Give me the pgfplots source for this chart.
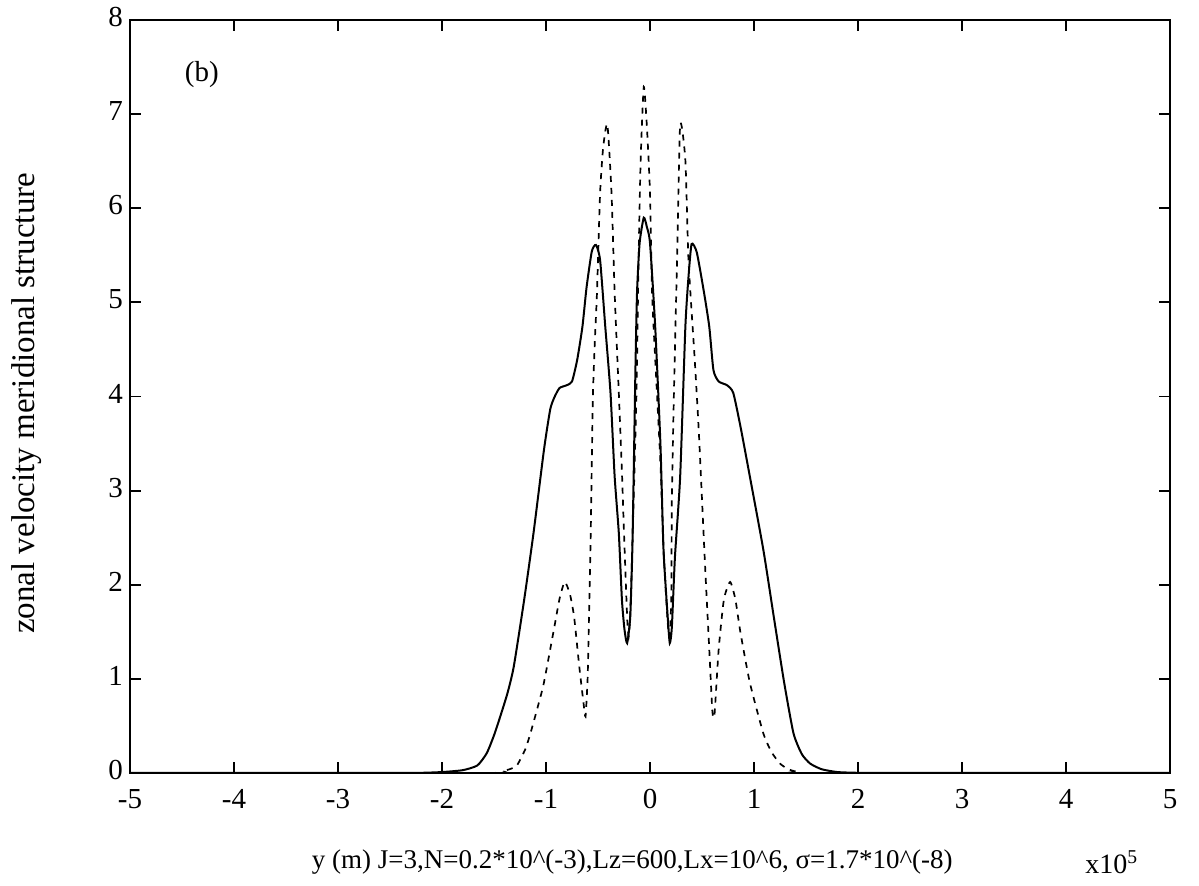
\documentclass[border=0pt]{standalone}
\usepackage{fontspec}
\setmainfont{Liberation Serif}
\usepackage{pgfplots}
\pgfplotsset{compat=1.18}
\begin{document}
\begin{tikzpicture}
\useasboundingbox (0,0) rectangle (599.5pt,443pt);
\begin{axis}[
  at={(65pt,56.5pt)}, anchor=south west,
  scale only axis, width=520pt, height=376.5pt,
  xmin=-5, xmax=5, ymin=0, ymax=8,
  xtick={-5,-4,...,5},
  xticklabels={-5,-4,-3,-2,-1,0,1,2,3,4,5},
  ytick={0,1,...,8},
  yticklabels={0,1,2,3,4,5,6,7,8},
  tick align=inside, tick pos=both,
  major tick length=5.5pt,
  axis line style={line width=1pt},
  tick style={line width=0.9pt, black},
  tick label style={font=\fontsize{14.5}{16}\selectfont},
  xticklabel style={yshift=-4.5pt},
  yticklabel style={yshift=1.5pt},
  clip=false,
]
% solid curve
\addplot[black, line width=1pt, smooth, tension=0.35] coordinates {
(-5,0) (-2.5,0) (-2.2,0.002) (-2.0,0.01) (-1.8,0.03) (-1.66,0.08) (-1.57,0.21)
(-1.50,0.40) (-1.44,0.60) (-1.37,0.85) (-1.31,1.13) (-1.21,1.84) (-1.12,2.55)
(-1.02,3.43) (-0.96,3.86) (-0.92,3.99) (-0.87,4.09) (-0.80,4.12) (-0.75,4.16)
(-0.70,4.39) (-0.65,4.74) (-0.61,5.16) (-0.56,5.54) (-0.52,5.61) (-0.48,5.45)
(-0.43,4.74) (-0.38,4.04) (-0.34,3.15) (-0.30,2.55) (-0.27,1.84) (-0.245,1.52)
(-0.22,1.38) (-0.19,1.66) (-0.17,2.37) (-0.155,3.3) (-0.14,4.3) (-0.125,5.10)
(-0.10,5.63) (-0.06,5.90) (-0.03,5.80) (0.0,5.63) (0.05,4.74) (0.10,3.5)
(0.13,2.37) (0.17,1.66) (0.19,1.38) (0.21,1.55) (0.24,2.3) (0.29,3.15)
(0.34,4.74) (0.37,5.27) (0.40,5.62) (0.45,5.53) (0.52,5.10) (0.57,4.74)
(0.61,4.28) (0.66,4.16) (0.74,4.12) (0.80,4.04) (0.87,3.68) (0.96,3.15)
(1.09,2.37) (1.19,1.66) (1.29,0.96) (1.38,0.42) (1.46,0.20) (1.54,0.10)
(1.65,0.04) (1.8,0.01) (2.0,0.002) (2.3,0) (5,0)
};
% dashed curve
\addplot[black, line width=0.85pt, dash pattern=on 3pt off 3pt, smooth, tension=0.35] coordinates {
(-5,0) (-1.6,0) (-1.42,0.02) (-1.35,0.04) (-1.28,0.08) (-1.20,0.25) (-1.15,0.42)
(-1.08,0.70) (-1.02,0.96) (-0.92,1.55) (-0.87,1.85) (-0.82,2.03) (-0.77,1.90)
(-0.73,1.66) (-0.68,1.13) (-0.64,0.75) (-0.62,0.60) (-0.60,1.0) (-0.59,1.49)
(-0.57,2.55) (-0.55,3.96) (-0.53,4.6) (-0.51,5.10) (-0.48,6.16) (-0.45,6.65)
(-0.41,6.89) (-0.37,6.16) (-0.34,5.10) (-0.30,4.04) (-0.27,3.2) (-0.25,2.55)
(-0.22,1.66) (-0.205,1.45) (-0.19,1.7) (-0.16,2.8) (-0.13,4.04) (-0.11,5.45)
(-0.09,6.51) (-0.06,7.29) (-0.03,6.87) (0.0,6.16) (0.02,5.10) (0.05,4.4)
(0.10,3.3) (0.13,2.37) (0.17,1.6) (0.19,1.45) (0.205,1.9) (0.21,2.90)
(0.23,4.04) (0.26,5.45) (0.29,6.89) (0.34,6.51) (0.37,5.45) (0.43,4.39)
(0.47,3.61) (0.53,2.19) (0.57,1.31) (0.60,0.65) (0.62,0.62) (0.66,1.31)
(0.71,1.84) (0.77,2.03) (0.82,1.85) (0.87,1.49) (0.96,0.96) (1.09,0.42)
(1.17,0.22) (1.25,0.10) (1.33,0.04) (1.42,0.01) (1.5,0) (5,0)
};
\node[font=\fontsize{14.5}{16}\selectfont] at (axis cs:-4.31,7.42) {(b)};
\node[font=\fontsize{13.5}{16}\selectfont, anchor=center] at ([yshift=-44.5pt]rel axis cs:0.483,0)
  {y (m) J=3,N=0.2*10\textasciicircum(-3),Lz=600,Lx=10\textasciicircum6, σ=1.7*10\textasciicircum(-8)};
\node[font=\fontsize{14}{16}\selectfont, anchor=center] at ([yshift=-44.5pt]rel axis cs:0.944,0)
  {x10\textsuperscript{5}};
\node[font=\fontsize{16.5}{18}\selectfont, rotate=90, anchor=center] at ([xshift=-51.5pt]rel axis cs:0,0.491)
  {zonal velocity meridional structure};
\end{axis}
\end{tikzpicture}
\end{document}
